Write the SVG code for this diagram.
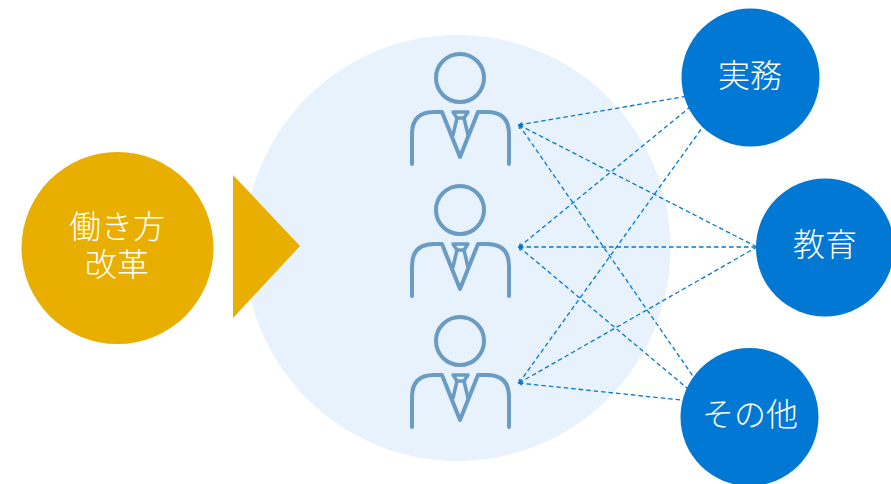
<svg xmlns="http://www.w3.org/2000/svg" width="891" height="484" viewBox="0 0 891 484">
<defs>
<style>
.l{fill:none;stroke:#0078D4;stroke-width:1.3;stroke-dasharray:4.500 3;marker-start:url(#a)}
.p{fill:none;stroke:#6A9BC3;stroke-width:4;stroke-linejoin:round;stroke-linecap:round}
.q{fill:none;stroke:#6A9BC3;stroke-width:3.500;stroke-linejoin:round;stroke-linecap:round}
.t{fill:#fff;font-family:"Noto Sans CJK JP","Noto Sans CJK SC",sans-serif;font-size:32px;font-weight:300;text-anchor:middle}
.b{fill:#0078D4}
</style>
<marker id="a" markerUnits="userSpaceOnUse" markerWidth="10" markerHeight="10" refX="1" refY="5" orient="auto" viewBox="0 0 10 10">
<path d="M4.500 3L1 5L4.500 7" fill="none" stroke="#0078D4" stroke-width="1.200"/>
</marker>
<g id="person">
<circle cx="460" cy="78" r="24" class="p"/>
<path class="p" d="M412 164V134Q412 112 434 112H442L460 157L478 112H487Q509 112 509 134V164"/>
<path class="q" d="M453 112H468L464 118H457ZM457 118L453 135M464 118L468 135"/>
</g>
</defs>
<rect width="891" height="484" fill="#fff"/>
<circle id="bg" cx="457.500" cy="248" r="213" fill="#E7F2FD"/>
<g id="connectors">
<path class="l" d="M519 125L700 94"/>
<path class="l" d="M519 125L757 247"/>
<path class="l" d="M519 125L706 395"/>
<path class="l" d="M519 247L700 99"/>
<path class="l" d="M519 247L757 247"/>
<path class="l" d="M519 247L706 404"/>
<path class="l" d="M519 383L712 114"/>
<path class="l" d="M519 383L757 247"/>
<path class="l" d="M519 383L700 402"/>
</g>
<g id="source"><circle cx="117.500" cy="248" r="96" fill="#E8AE00"/><text class="t" x="117" y="238">働き方<tspan x="117" y="276">改革</tspan></text></g>
<g id="arrow"><path d="M233 175L300 246L233 318Z" fill="#E8AE00"/></g>
<g id="person1"><use href="#person"/></g>
<g id="person2"><use href="#person" y="132"/></g>
<g id="person3"><use href="#person" y="263"/></g>
<g id="jitsumu"><circle class="b" cx="750.500" cy="77.500" r="69"/><text class="t" x="750" y="87">実務</text></g>
<g id="kyoiku"><circle class="b" cx="825" cy="247.500" r="69"/><text class="t" x="825" y="256">教育</text></g>
<g id="sonota"><circle class="b" cx="749.500" cy="417" r="69"/><text class="t" x="750" y="426">その他</text></g>
</svg>
